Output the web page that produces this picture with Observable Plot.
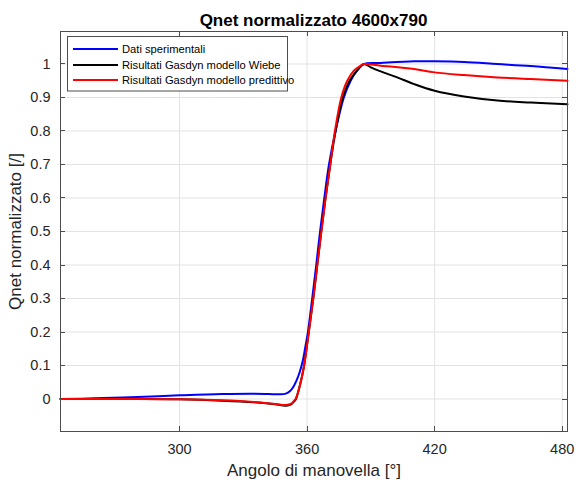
<!DOCTYPE html>
<html>
<head>
<meta charset="utf-8">
<script src="https://cdn.jsdelivr.net/npm/d3@7"></script>
<script src="https://cdn.jsdelivr.net/npm/@observablehq/plot@0.6"></script>
<style>
  html, body { margin: 0; padding: 0; background: #fff; }
  #chart { position: relative; width: 577px; height: 485px; }
  svg { font-family: "Liberation Sans", Arial, Helvetica, sans-serif; }
</style>
</head>
<body>
<div id="chart"></div>
<script>
// ---- Data ----
const titleText = "Qnet normalizzato 4600x790";
const xLabel = "Angolo di manovella [°]";
const yLabel = "Qnet normalizzato [/]";
const xTicks = [300, 360, 420, 480];
const yTicks = [0, 0.1, 0.2, 0.3, 0.4, 0.5, 0.6, 0.7, 0.8, 0.9, 1];
const yTickLabels = ["0", "0.1", "0.2", "0.3", "0.4", "0.5", "0.6", "0.7", "0.8", "0.9", "1"];

const seriesNames = ["Dati sperimentali", "Risultati Gasdyn modello Wiebe", "Risultati Gasdyn modello predittivo"];
const seriesColors = ["#0000ff", "#000000", "#ff0000"];

const angleExp = [244, 260, 280, 300, 320, 335, 342, 347, 350, 352, 353.5, 355, 356.5, 358, 359.3, 360.4, 362.4, 364.3, 366.1, 368.1, 370.3, 373.4, 377.3, 380.5, 383.5, 386.7, 394.6, 410.3, 420, 433.8, 449.5, 465.2, 482.5];
const qExp     = [0, 0.002, 0.006, 0.011, 0.015, 0.016, 0.015, 0.014, 0.016, 0.024, 0.036, 0.055, 0.08, 0.115, 0.16, 0.2, 0.3, 0.4, 0.5, 0.6, 0.7, 0.8, 0.9, 0.95, 0.98, 1.0, 1.003, 1.008, 1.008, 1.006, 1.0, 0.994, 0.985];

const angleWiebe = [244, 280, 300, 320, 335, 345, 350, 352.5, 353.5, 354.6, 355.5, 356.6, 357.6, 358.6, 360.8, 362.9, 364.8, 366.7, 368.7, 370.9, 373.4, 376.8, 380, 383.5, 386.7, 390, 394.6, 402.4, 410.3, 420, 433.8, 449.5, 465.2, 482.5];
const qWiebe     = [0, 0, -0.001, -0.005, -0.01, -0.016, -0.02, -0.016, -0.01, -0.002, 0.014, 0.04, 0.067, 0.1, 0.2, 0.3, 0.4, 0.5, 0.6, 0.7, 0.8, 0.9, 0.95, 0.98, 1.0, 0.99, 0.978, 0.96, 0.94, 0.92, 0.903, 0.891, 0.885, 0.88];

const anglePred = [244, 280, 300, 320, 335, 345, 350, 352.5, 353.5, 354.6, 355.5, 356.6, 357.6, 358.6, 360.8, 362.9, 364.8, 366.7, 368.7, 370.9, 373.1, 376.1, 378.9, 382, 385.2, 386.7, 394.6, 410.3, 420, 433.8, 449.5, 465.2, 482.5];
const qPred     = [0, 0, -0.001, -0.004, -0.009, -0.015, -0.018, -0.014, -0.008, 0, 0.015, 0.04, 0.067, 0.1, 0.2, 0.3, 0.4, 0.5, 0.6, 0.7, 0.8, 0.9, 0.95, 0.98, 0.995, 1.0, 0.995, 0.985, 0.975, 0.967, 0.96, 0.955, 0.95];

const exp = angleExp.map((a, i) => ({a, q: qExp[i]}));
const wiebe = angleWiebe.map((a, i) => ({a, q: qWiebe[i]}));
const pred = anglePred.map((a, i) => ({a, q: qPred[i]}));

const axisColor = "#4d4d4d";
const gridColor = "#e3e3e3";
const curveType = "catmull-rom";

const chart = Plot.plot({
  width: 577,
  height: 485,
  marginLeft: 60,
  marginRight: 10,
  marginTop: 31,
  marginBottom: 54,
  style: {fontFamily: "'Liberation Sans', Arial, Helvetica, sans-serif", fontSize: "14px", color: "#262626", background: "#fff"},
  x: {domain: [244, 482.5]},
  y: {domain: [-0.097, 1.097]},
  marks: [
    Plot.gridX(xTicks, {stroke: gridColor, strokeOpacity: 1}),
    Plot.gridY(yTicks, {stroke: gridColor, strokeOpacity: 1}),
    Plot.axisX(xTicks, {tickSize: 0, tickPadding: 12, fontSize: 14.5, fill: "#262626",
      label: xLabel, labelAnchor: "center", labelArrow: "none", labelOffset: 44}),
    Plot.axisY(yTicks, {tickSize: 0, tickPadding: 10, fontSize: 14.5, fill: "#262626",
      tickFormat: (d) => yTickLabels[yTicks.indexOf(d)],
      label: yLabel, labelAnchor: "center", labelArrow: "none", labelOffset: 52}),
    Plot.line(exp, {x: "a", y: "q", stroke: seriesColors[0], strokeWidth: 2, curve: curveType}),
    Plot.line(wiebe, {x: "a", y: "q", stroke: seriesColors[1], strokeWidth: 2, curve: curveType}),
    Plot.line(pred, {x: "a", y: "q", stroke: seriesColors[2], strokeWidth: 2, curve: curveType}),
    Plot.frame({stroke: axisColor, strokeWidth: 1})
  ]
});

document.getElementById("chart").appendChild(chart);

const svg = d3.select(chart);
// Axis labels larger than tick labels
svg.selectAll("[aria-label='x-axis label'] text, [aria-label='y-axis label'] text").attr("font-size", 17);
svg.selectAll("[aria-label='x-axis label'], [aria-label='y-axis label']").attr("font-size", 17);

// Inward ticks on all four sides, positioned via the plot's own scales
const sx = chart.scale("x"), sy = chart.scale("y");
const L = 60, R = 567, T = 31, B = 431, tl = 5;
const tg = svg.append("g").attr("stroke", axisColor).attr("stroke-width", 1);
xTicks.forEach(v => {
  const x = Math.round(sx.apply(v)) + 0.5;
  tg.append("line").attr("x1", x).attr("x2", x).attr("y1", B).attr("y2", B - tl);
  tg.append("line").attr("x1", x).attr("x2", x).attr("y1", T).attr("y2", T + tl);
});
yTicks.forEach(v => {
  const y = Math.round(sy.apply(v)) + 0.5;
  tg.append("line").attr("x1", L).attr("x2", L + tl).attr("y1", y).attr("y2", y);
  tg.append("line").attr("x1", R).attr("x2", R - tl).attr("y1", y).attr("y2", y);
});

// Title
svg.append("text")
  .attr("x", (L + R) / 2).attr("y", 26)
  .attr("text-anchor", "middle")
  .attr("font-size", 17).attr("font-weight", "bold").attr("fill", "#000")
  .text(titleText);

// Legend
const lg = svg.append("g").attr("text-anchor", "start");
lg.append("rect").attr("x", 67.5).attr("y", 36.5).attr("width", 220).attr("height", 54.5)
  .attr("fill", "#fff").attr("stroke", axisColor).attr("stroke-width", 1);
const rowsY = [49, 65, 80];
seriesNames.forEach((name, i) => {
  lg.append("line").attr("x1", 73).attr("x2", 118).attr("y1", rowsY[i]).attr("y2", rowsY[i])
    .attr("stroke", seriesColors[i]).attr("stroke-width", 2);
  lg.append("text").attr("x", 122).attr("y", rowsY[i]).attr("dy", "0.35em")
    .attr("text-anchor", "start")
    .attr("font-size", 11.2).attr("fill", "#000").text(name);
});
</script>
</body>
</html>
